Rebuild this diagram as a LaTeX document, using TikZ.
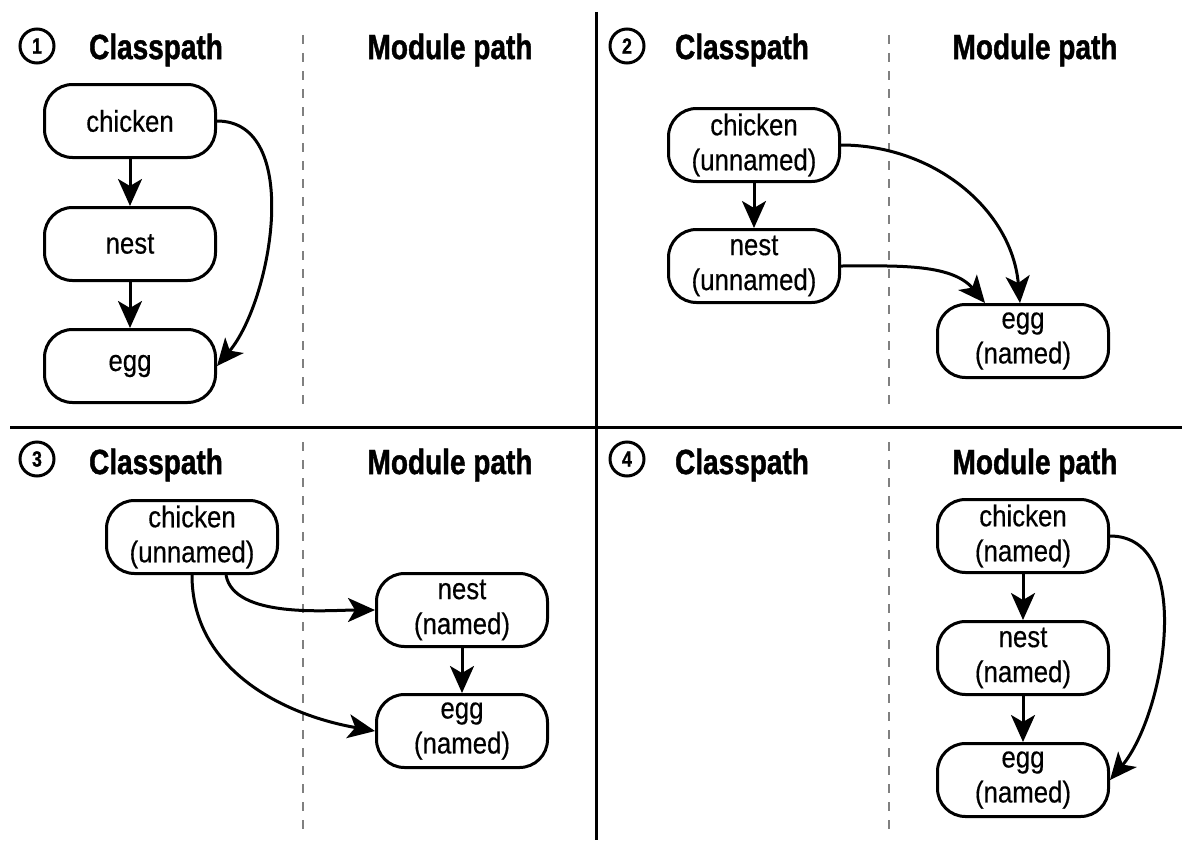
\documentclass[tikz,border=0pt]{standalone}
\usepackage{fontspec}
\setmainfont{Liberation Sans}
\newfontfamily\nodefont[FakeStretch=0.86,FakeBold=0.4]{Liberation Sans}
\newfontfamily\headfont[FakeStretch=0.8,FakeBold=1.2]{Liberation Sans Bold}
\usetikzlibrary{arrows.meta}
\begin{document}
\begin{tikzpicture}[x=1pt,y=-1pt,
  box/.style={draw,line width=3pt,rounded corners=28pt,minimum width=171pt,minimum height=73pt,
    align=center,inner sep=0pt,font={\nodefont\fontsize{30}{35}\selectfont}},
  head/.style={font={\headfont\fontsize{35}{40}\selectfont},inner sep=0pt},
  num/.style={draw,circle,line width=3pt,minimum size=34pt,inner sep=0pt,
    font={\headfont\fontsize{22}{22}\selectfont}},
  arr/.style={line width=3pt,-{Stealth[length=27pt,width=24pt,inset=7pt]}},
  divider/.style={line width=3pt},
  sep/.style={line width=1.6pt,gray,dash pattern=on 9pt off 9pt}
]
\useasboundingbox (0,0) rectangle (1193,851);

% dividers
\draw[divider] (596,12) -- (596,840);
\draw[divider] (10,427) -- (1182,427);
\draw[sep] (303,35) -- (303,405);
\draw[sep] (889,35) -- (889,405);
\draw[sep] (303,442) -- (303,830);
\draw[sep] (889,442) -- (889,830);

% numbers
\node[num] (n1) at (37,46) {1};
\node[num] (n2) at (627,46) {2};
\node[num] (n3) at (37,459) {3};
\node[num] (n4) at (627,459) {4};

% headers
\node[head] (h1a) at (156,50) {Classpath};
\node[head] (h1b) at (450,50) {Module path};
\node[head] (h2a) at (742,50) {Classpath};
\node[head] (h2b) at (1035,50) {Module path};
\node[head] (h3a) at (156,465) {Classpath};
\node[head] (h3b) at (450,465) {Module path};
\node[head] (h4a) at (742,465) {Classpath};
\node[head] (h4b) at (1035,465) {Module path};

% panel 1
\node[box] (c1) at (130,121) {chicken};
\node[box] (t1) at (130,244) {nest};
\node[box] (e1) at (130,366) {egg};
\draw[arr] (c1) -- (t1);
\draw[arr] (t1) -- (e1);
\draw[arr] (c1.east) to[out=0,in=50,looseness=0.9] (e1.east);

% panel 2
\node[box] (c2) at (754,145) {chicken\\(unnamed)};
\node[box] (t2) at (754,266) {nest\\(unnamed)};
\node[box] (e2) at (1023,341) {egg\\(named)};
\draw[arr] (c2) -- (t2);
\draw[arr] (c2.east) to[out=0,in=95] ([xshift=-3pt]e2.north);
\draw[arr] (t2.east) to[out=0,in=130,looseness=0.9] ([xshift=-38pt]e2.north);

% panel 3
\node[box] (c3) at (192,537) {chicken\\(unnamed)};
\node[box] (t3) at (462,610) {nest\\(named)};
\node[box] (e3) at (462,731) {egg\\(named)};
\draw[arr] (t3) -- (e3);
\draw[arr] ([xshift=34pt]c3.south) to[out=-80,in=180,looseness=0.75] (t3.west);
\draw[arr] (c3.south) to[out=-90,in=170,looseness=1.0] (e3.west);

% panel 4
\node[box] (c4) at (1023,536) {chicken\\(named)};
\node[box] (t4) at (1023,658) {nest\\(named)};
\node[box] (e4) at (1023,780) {egg\\(named)};
\draw[arr] (c4) -- (t4);
\draw[arr] (t4) -- (e4);
\draw[arr] (c4.east) to[out=0,in=50,looseness=0.9] (e4.east);
\end{tikzpicture}
\end{document}
